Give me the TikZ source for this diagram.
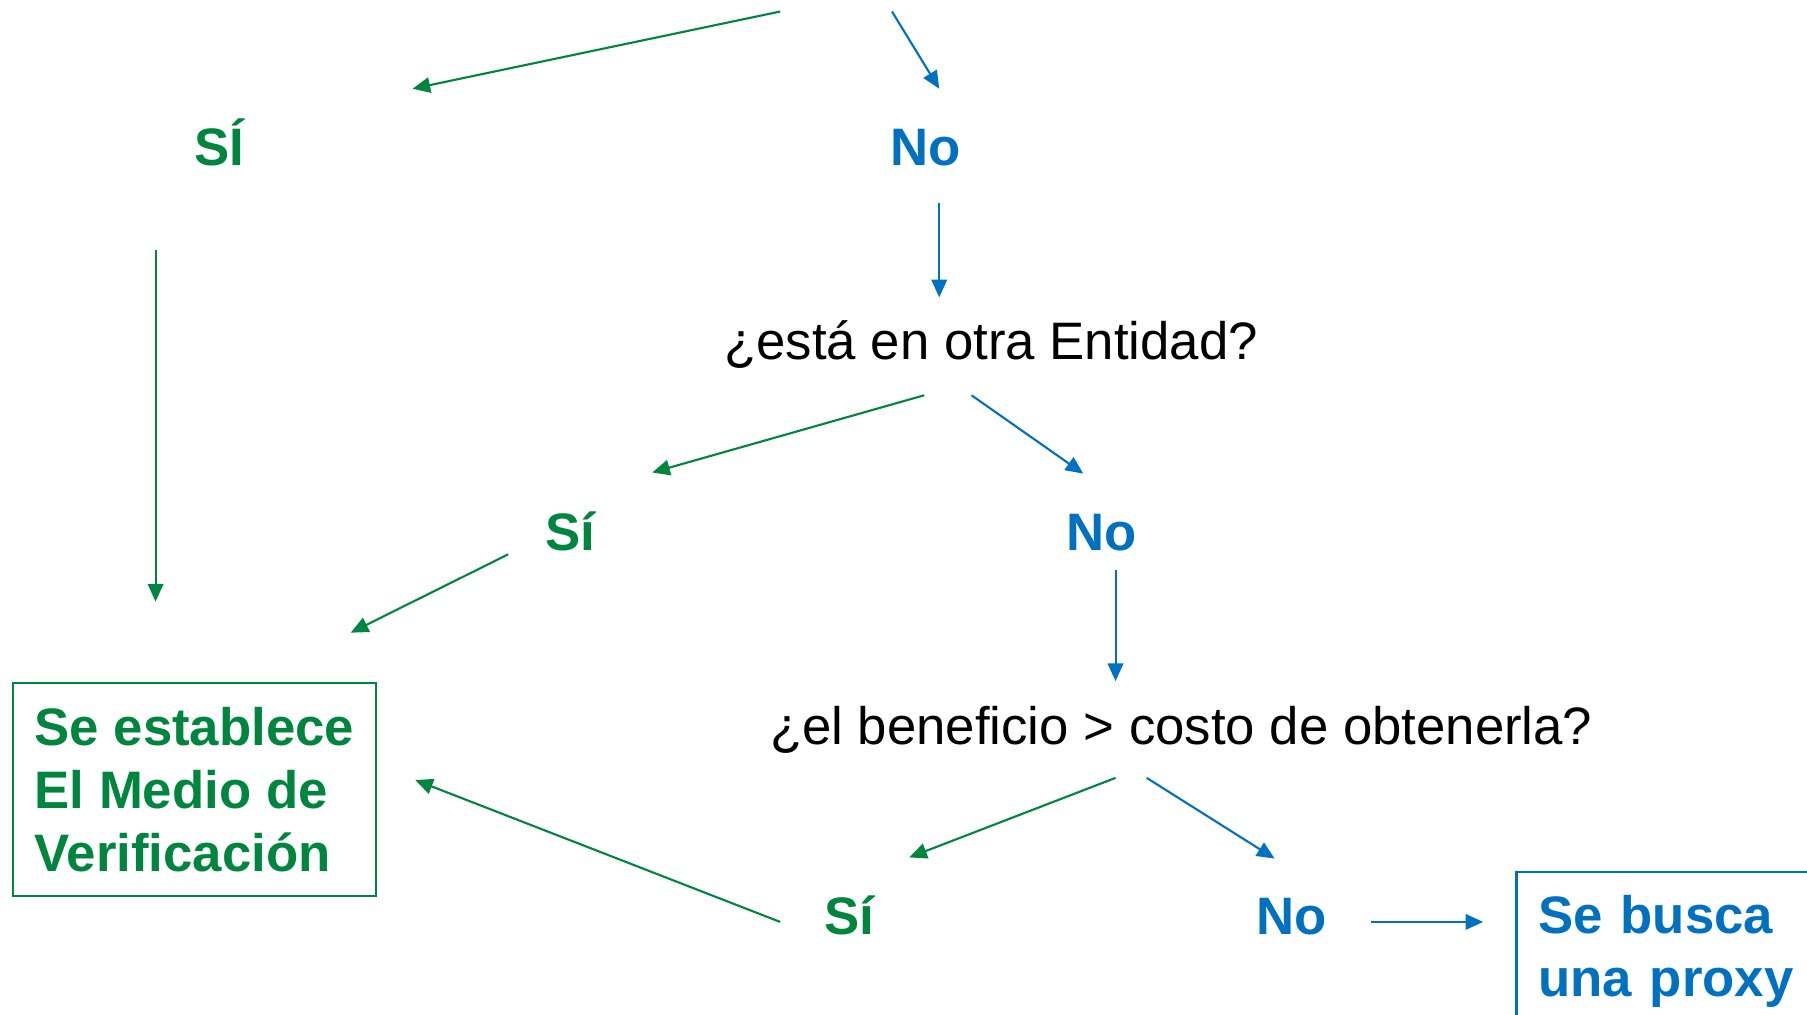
\documentclass[tikz,border=0pt]{standalone}
\usepackage{fontspec}
\setmainfont{Liberation Sans}
\usepackage{xcolor}
\usetikzlibrary{arrows.meta}
\definecolor{verde}{RGB}{0,133,62}
\definecolor{azul}{RGB}{0,112,192}
\tikzset{> = {Triangle[length=5pt,width=4.4pt]}}
\tikzset{g/.style={draw=verde,line width=0.6pt,->}, b/.style={draw=azul,line width=0.6pt,->},
  lbl/.style={font=\fontsize{15pt}{18pt}\selectfont\bfseries,anchor=base,inner sep=0pt},
  ask/.style={font=\fontsize{15pt}{18pt}\selectfont,anchor=base,inner sep=0pt},
  caja/.style={line width=0.6pt,font=\fontsize{15pt}{18pt}\selectfont\bfseries,align=left,anchor=north west,inner xsep=0.22cm,inner ysep=0.23cm}}

\begin{document}
\begin{tikzpicture}[x=0.011524cm,y=-0.011524cm]
		\useasboundingbox (0,0) rectangle (1568,880);
		\clip (0,0) rectangle (1568,880);
		\coordinate (topSi) at (677,10);
		\coordinate (topNo) at (774,10);
		\node[lbl,text=verde] (siA) at (190,144) {SÍ};
		\node[lbl,text=azul] (noA) at (803,144) {No};
		\node[ask] (ent) at (860,312) {¿está en otra Entidad?};
		\node[lbl,text=verde] (siB) at (495,478) {Sí};
		\node[lbl,text=azul] (noB) at (956,478) {No};
		\node[ask] (cost) at (1025,646) {¿el beneficio > costo de obtenerla?};
		\node[lbl,text=verde] (siC) at (737,811) {Sí};
		\node[lbl,text=azul] (noC) at (1121,811) {No};
		\node[caja,draw=verde,text=verde,minimum width=3.63cm,minimum height=2.13cm] (medio) at (10,592) {Se establece\\El Medio de\\Verificación};
		\node[caja,draw=azul,text=azul,text width=3cm] (proxy) at (1315,756) {Se busca\\una proxy};
		\draw[g] (topSi) -- ([shift={(168,-67)}]siA.base);
		\draw[b] (topNo) -- ([shift={(12,-67)}]noA.base);
		\draw[b] ([shift={(12,32)}]noA.base) -- ([shift={(-45,-54)}]ent.base);
		\draw[g] ([shift={(-55,73)}]siA.base) -- ([shift={(125,-70)}]medio.north west);
		\draw[g] ([shift={(-58,31)}]ent.base) -- ([shift={(71,-68)}]siB.base);
		\draw[b] ([shift={(-17,31)}]ent.base) -- ([shift={(-16,-67)}]noB.base);
		\draw[g] ([shift={(-54,3)}]siB.base) -- ([shift={(-23,-43)}]medio.north east);
		\draw[b] ([shift={(12,17)}]noB.base) -- ([shift={(-57,-55)}]cost.base);
		\draw[g] ([shift={(-57,29)}]cost.base) -- ([shift={(52,-67)}]siC.base);
		\draw[b] ([shift={(-30,29)}]cost.base) -- ([shift={(-15,-66)}]noC.base);
		\draw[g] ([shift={(-60,-11)}]siC.base) -- ([shift={(33,-8.5)}]medio.east);
		\draw[b] ([shift={(69,-11)}]noC.base) -- ([shift={(-28,44)}]proxy.north west);
\end{tikzpicture}
\end{document}
